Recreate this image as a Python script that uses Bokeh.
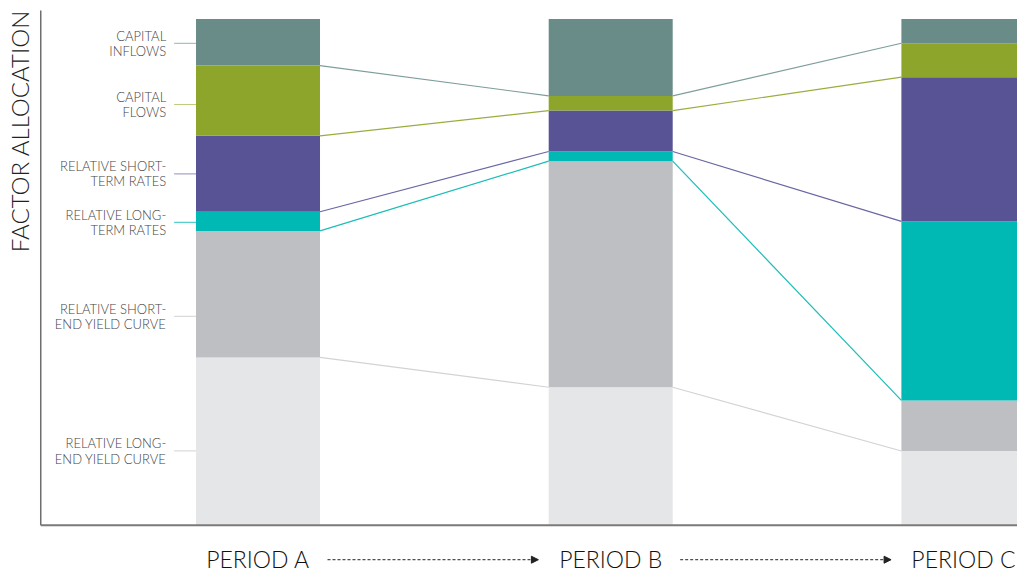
import numpy as np
from bokeh.plotting import figure
from bokeh.models import ColumnDataSource, Range1d, Arrow, NormalHead
from bokeh.core.properties import value
from bokeh.embed import file_html
from bokeh.resources import INLINE

# ---- data (bottom to top of each stack, % of allocation) ----
periods = ["PERIOD A", "PERIOD B", "PERIOD C"]
factor_names = ["long_end", "short_end", "long_rates", "short_rates", "flows", "inflows"]
factor_labels = ["RELATIVE LONG-\nEND YIELD CURVE", "RELATIVE SHORT-\nEND YIELD CURVE",
                 "RELATIVE LONG-\nTERM RATES", "RELATIVE SHORT-\nTERM RATES",
                 "CAPITAL\nFLOWS", "CAPITAL\nINFLOWS"]
long_end = [33.1, 27.2, 14.6]
short_end = [25.0, 44.7, 10.0]
long_rates = [3.8, 1.9, 35.4]
short_rates = [15.0, 8.1, 28.5]
flows = [13.9, 2.9, 6.7]
inflows = [9.2, 15.2, 4.8]
# vertical position of each side label (same units)
label_y = [14.6, 41.2, 59.8, 69.4, 83.1, 95.2]

colors = ["#E5E6E8", "#BEBFC2", "#00B8B4", "#585394", "#8CA52A", "#698C89"]
line_colors = ["#D3D3D5", "#D3D3D5", "#1BBDB9", "#6A66A3", "#98AE3E", "#7E9E9B"]
leader_colors = ["#DADBDD", "#DADBDD", "#55CFCC", "#A7A4CC", "#BDCD80", "#A9C3C1"]

FONT = value("Lato Light")

xpos = np.arange(len(periods), dtype=float)
bar_w = 0.3516

src = ColumnDataSource(dict(x=xpos, long_end=long_end, short_end=short_end,
                            long_rates=long_rates, short_rates=short_rates,
                            flows=flows, inflows=inflows))

p = figure(width=1017, height=572, output_backend="svg", toolbar_location=None,
           x_axis_location=None, y_axis_location=None, min_border=0,
           x_range=Range1d(-0.7301, 2.1534), y_range=Range1d(-9.43, 103.66),
           background_fill_color="white", border_fill_color="white")
p.outline_line_color = None
p.grid.visible = False

p.vbar_stack(factor_names, x="x", width=bar_w, color=colors, line_color=None, source=src)

# connectors between stacks at each internal segment boundary
stack = np.array([long_end, short_end, long_rates, short_rates, flows, inflows])
cum = np.cumsum(stack, axis=0)
for k in range(0, 5):
    ys = cum[k]
    p.segment(x0=xpos[:-1] + bar_w / 2, y0=ys[:-1], x1=xpos[1:] - bar_w / 2, y1=ys[1:],
              line_color=line_colors[k + 1], line_width=1.2)

# axis lines
x_axis_left = -0.616
p.segment(x0=[x_axis_left], y0=[101.7], x1=[x_axis_left], y1=[-0.1], line_color="#6E6E6E", line_width=1.5)
p.segment(x0=[x_axis_left], y0=[-0.1], x1=[2.2], y1=[-0.1], line_color="#7A7A7A", line_width=2)

# side labels with leaders
lx1 = -bar_w / 2
lx0 = lx1 - 0.062
p.segment(x0=[lx0] * 6, y0=label_y, x1=[lx1] * 6, y1=label_y, line_color=leader_colors, line_width=1.2)
p.text(x=[-0.2602] * 6, y=label_y, text=factor_labels, text_align="right", text_baseline="middle",
       text_font=FONT, text_font_size="13px", text_color="#444444", text_line_height=0.95)

# y title
p.text(x=[-0.6765], y=[78.5], text=["FACTOR  ALLOCATION"], angle=np.pi / 2, text_align="center",
       text_baseline="middle", text_font=FONT, text_font_size="24px", text_color="#222222")

# period labels and arrows
p.text(x=xpos, y=[-6.75] * 3, text=periods, text_align="center", text_baseline="middle",
       text_font=FONT, text_font_size="23px", text_color="#111111")
for i in range(len(periods) - 1):
    p.add_layout(Arrow(x_start=xpos[i] + 0.197, y_start=-6.9, x_end=xpos[i + 1] - 0.205, y_end=-6.9,
                       line_color="#222222", line_width=1, line_dash="3 2",
                       end=NormalHead(size=7, fill_color="#222222", line_color="#222222", line_width=1)))

open("out.html", "w").write(file_html(p, INLINE))
